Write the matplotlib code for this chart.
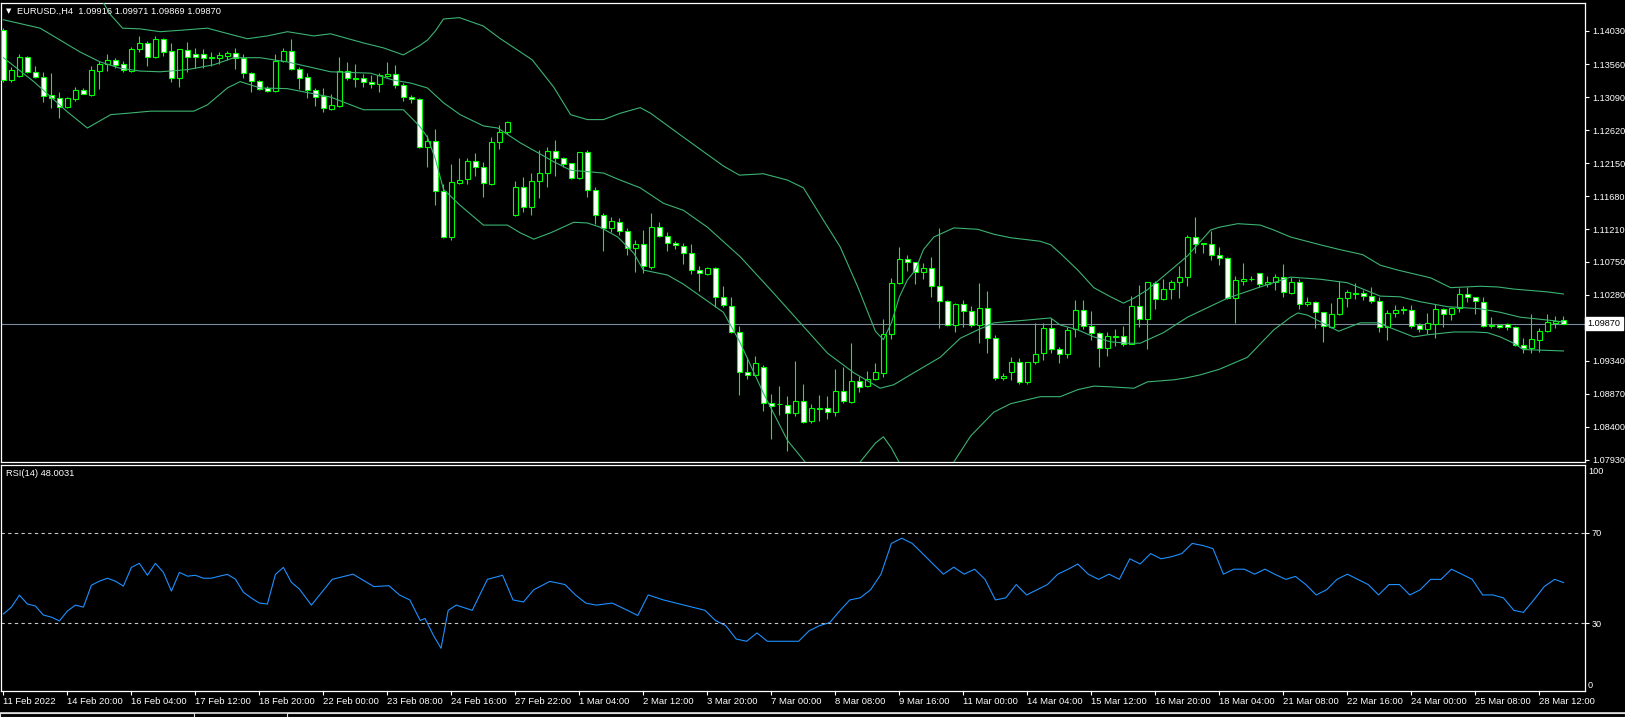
import numpy as np
import matplotlib.pyplot as plt

plt.rcParams['font.family'] = ['Liberation Sans', 'DejaVu Sans']

W, H = 1625, 717

symbol = 'EURUSD.,H4'
last_ohlc = '1.09916 1.09971 1.09869 1.09870'
rsi_title = 'RSI(14) 48.0031'
last_price = 1.09870

# H4 candles, oldest first
opens = [1.1404, 1.1333, 1.1339, 1.1366, 1.1345, 1.1338, 1.1312, 1.1308, 1.1295, 1.1306,
         1.1319, 1.1312, 1.1346, 1.1356, 1.1362, 1.1356, 1.1346, 1.1377, 1.1386, 1.1366,
         1.1392, 1.1375, 1.1336, 1.1376, 1.1370, 1.1370, 1.1365, 1.1365, 1.1367, 1.1372,
         1.1365, 1.1343, 1.1332, 1.1322, 1.1318, 1.1360, 1.1375, 1.1349, 1.1338, 1.1319,
         1.1311, 1.1292, 1.1296, 1.1346, 1.1336, 1.1336, 1.1330, 1.1328, 1.1339, 1.1342,
         1.1326, 1.1309, 1.1306, 1.1238, 1.1247, 1.1175, 1.1110, 1.1187, 1.1193, 1.1218,
         1.1210, 1.1185, 1.1245, 1.1259, 1.1141, 1.1181, 1.1153, 1.1190, 1.1201, 1.1232,
         1.1222, 1.1215, 1.1194, 1.1231, 1.1177, 1.1141, 1.1123, 1.1131, 1.1119, 1.1094,
         1.1100, 1.1067, 1.1124, 1.1111, 1.1101, 1.1097, 1.1087, 1.1063, 1.1057, 1.1066,
         1.1025, 1.1012, 1.0975, 1.0918, 1.0914, 1.0925, 1.0874, 1.0873, 1.0871, 1.0860,
         1.0877, 1.0848, 1.0865, 1.0867, 1.0861, 1.0891, 1.0875, 1.0905, 1.0898, 1.0908,
         1.0917, 1.0972, 1.1045, 1.1079, 1.1075, 1.1060, 1.1066, 1.1040, 1.1019, 1.0985,
         1.1015, 1.1005, 1.0985, 1.1009, 1.0966, 1.0910, 1.0918, 1.0932, 1.0904, 1.0932,
         1.0945, 1.0981, 1.0951, 1.0944, 1.0979, 1.1006, 1.0984, 1.0974, 1.0952, 1.0968,
         1.0969, 1.0958, 1.1012, 1.0994, 1.1045, 1.1022, 1.1036, 1.1046, 1.1053, 1.1110,
         1.1100, 1.1100, 1.1085, 1.1080, 1.1023, 1.1047, 1.1051, 1.1059, 1.1043, 1.1046,
         1.1053, 1.1030, 1.1046, 1.1015, 1.1018, 1.1003, 1.0982, 1.1001, 1.1023, 1.1029,
         1.1030, 1.1026, 1.1019, 1.0982, 1.1002, 1.1006, 1.1006, 1.0985, 1.0979, 1.0987,
         1.1008, 1.1001, 1.1009, 1.1029, 1.1025, 1.1018, 1.0984, 1.0985, 1.0986, 1.0982,
         1.0956, 1.0952, 1.0964, 1.0976, 1.0988, 1.09916]
highs = [1.1407, 1.1352, 1.1370, 1.1367, 1.1353, 1.1345, 1.1343, 1.1316, 1.1309, 1.1323,
         1.1322, 1.1353, 1.1360, 1.1370, 1.1365, 1.1360, 1.1380, 1.1396, 1.1389, 1.1396,
         1.1393, 1.1386, 1.1377, 1.1387, 1.1379, 1.1377, 1.1373, 1.1373, 1.1375, 1.1379,
         1.1370, 1.1345, 1.1333, 1.1325, 1.1370, 1.1379, 1.1392, 1.1352, 1.1343, 1.1322,
         1.1322, 1.1313, 1.1366, 1.1359, 1.1356, 1.1342, 1.1340, 1.1343, 1.1359, 1.1355,
         1.1329, 1.1312, 1.1308, 1.1255, 1.1264, 1.1185, 1.1214, 1.1222, 1.1222, 1.1230,
         1.1217, 1.1252, 1.1269, 1.1275, 1.1190, 1.1196, 1.1201, 1.1234, 1.1238, 1.1248,
         1.1224, 1.1215, 1.1231, 1.1234, 1.1181, 1.1144, 1.1139, 1.1137, 1.1123, 1.1106,
         1.1120, 1.1144, 1.1132, 1.1117, 1.1104, 1.1101, 1.1100, 1.1069, 1.1067, 1.1067,
         1.1040, 1.1025, 1.0984, 1.0939, 1.0941, 1.0928, 1.0887, 1.0898, 1.0884, 1.0934,
         1.0901, 1.0873, 1.0885, 1.0884, 1.0922, 1.0925, 1.0959, 1.0912, 1.0920, 1.0931,
         1.0993, 1.1052, 1.1096, 1.1085, 1.1075, 1.1073, 1.1082, 1.1123, 1.1020, 1.1016,
         1.1020, 1.1012, 1.1045, 1.1033, 1.0971, 1.0917, 1.0939, 1.0938, 1.0932, 1.0988,
         1.0988, 1.0995, 1.0954, 1.0982, 1.1020, 1.1020, 1.1005, 1.0975, 1.0975, 1.0979,
         1.0984, 1.1026, 1.1042, 1.1046, 1.1047, 1.1051, 1.1049, 1.1069, 1.1113, 1.1139,
         1.1101, 1.1119, 1.1096, 1.1082, 1.1055, 1.1073, 1.1055, 1.1059, 1.1055, 1.1057,
         1.1072, 1.1053, 1.1051, 1.1025, 1.1019, 1.1003, 1.1016, 1.1048, 1.1035, 1.1045,
         1.1035, 1.1039, 1.1025, 1.1006, 1.1013, 1.1012, 1.1013, 1.0988, 1.1002, 1.1015,
         1.1009, 1.1010, 1.1038, 1.1039, 1.1025, 1.1025, 1.0996, 1.0986, 1.0988, 1.0984,
         1.0966, 1.1001, 1.0981, 1.1001, 1.0998, 1.09971]
lows = [1.1330, 1.1330, 1.1338, 1.1343, 1.1336, 1.1302, 1.1293, 1.1279, 1.1293, 1.1303,
        1.1313, 1.1311, 1.1320, 1.1346, 1.1350, 1.1345, 1.1345, 1.1373, 1.1353, 1.1365,
        1.1368, 1.1330, 1.1323, 1.1345, 1.1350, 1.1350, 1.1353, 1.1356, 1.1362, 1.1349,
        1.1336, 1.1316, 1.1319, 1.1316, 1.1316, 1.1359, 1.1348, 1.1320, 1.1308, 1.1296,
        1.1288, 1.1291, 1.1295, 1.1333, 1.1323, 1.1323, 1.1322, 1.1316, 1.1338, 1.1322,
        1.1303, 1.1301, 1.1237, 1.1210, 1.1156, 1.1109, 1.1106, 1.1185, 1.1185, 1.1197,
        1.1167, 1.1184, 1.1235, 1.1257, 1.1140, 1.1146, 1.1141, 1.1166, 1.1181, 1.1197,
        1.1210, 1.1193, 1.1193, 1.1167, 1.1129, 1.1090, 1.1117, 1.1113, 1.1085, 1.1060,
        1.1059, 1.1065, 1.1110, 1.1090, 1.1093, 1.1072, 1.1057, 1.1033, 1.1056, 1.1010,
        1.1010, 1.0974, 1.0885, 1.0908, 1.0912, 1.0863, 1.0823, 1.0857, 1.0806, 1.0856,
        1.0846, 1.0846, 1.0848, 1.0851, 1.0856, 1.0874, 1.0874, 1.0890, 1.0897, 1.0907,
        1.0911, 1.0965, 1.1043, 1.1062, 1.1043, 1.1050, 1.1025, 1.0981, 1.0984, 1.0975,
        1.0982, 1.0982, 1.0959, 1.0945, 1.0907, 1.0907, 1.0907, 1.0901, 1.0901, 1.0929,
        1.0935, 1.0945, 1.0931, 1.0938, 1.0968, 1.0979, 1.0964, 1.0925, 1.0941, 1.0955,
        1.0955, 1.0958, 1.0982, 1.0951, 1.1008, 1.1020, 1.1022, 1.1023, 1.1040, 1.1087,
        1.1087, 1.1077, 1.1070, 1.1022, 1.0988, 1.1042, 1.1047, 1.1039, 1.1039, 1.1035,
        1.1025, 1.1029, 1.1008, 1.1012, 1.0981, 1.0961, 1.0981, 1.0999, 1.1010, 1.1022,
        1.1020, 1.1016, 1.0975, 1.0964, 1.0996, 1.1001, 1.0981, 1.0975, 1.0972, 1.0966,
        1.0982, 1.0992, 1.1003, 1.1018, 1.1001, 1.0982, 1.0981, 1.0981, 1.0978, 1.0955,
        1.0945, 1.0945, 1.0946, 1.0975, 1.0981, 1.09869]
closes = [1.1333, 1.1348, 1.1366, 1.1345, 1.1338, 1.1311, 1.1308, 1.1295, 1.1308, 1.1319,
          1.1313, 1.1348, 1.1356, 1.1362, 1.1355, 1.1348, 1.1377, 1.1386, 1.1366, 1.1392,
          1.1373, 1.1336, 1.1377, 1.1366, 1.1366, 1.1365, 1.1366, 1.1369, 1.1372, 1.1365,
          1.1343, 1.1332, 1.1320, 1.1318, 1.1360, 1.1375, 1.1349, 1.1336, 1.1319, 1.1309,
          1.1293, 1.1298, 1.1346, 1.1336, 1.1335, 1.1330, 1.1328, 1.1340, 1.1342, 1.1326,
          1.1309, 1.1306, 1.1238, 1.1247, 1.1175, 1.1110, 1.1188, 1.1191, 1.1218, 1.1210,
          1.1187, 1.1245, 1.1259, 1.1274, 1.1181, 1.1153, 1.1190, 1.1201, 1.1232, 1.1222,
          1.1214, 1.1194, 1.1231, 1.1177, 1.1141, 1.1123, 1.1133, 1.1119, 1.1094, 1.1100,
          1.1069, 1.1124, 1.1111, 1.1101, 1.1099, 1.1087, 1.1063, 1.1059, 1.1066, 1.1025,
          1.1013, 1.0975, 1.0918, 1.0914, 1.0931, 1.0874, 1.0870, 1.0872, 1.0860, 1.0877,
          1.0847, 1.0867, 1.0867, 1.0861, 1.0891, 1.0877, 1.0905, 1.0897, 1.0908, 1.0918,
          1.0972, 1.1045, 1.1079, 1.1075, 1.1060, 1.1066, 1.1040, 1.1019, 1.0985, 1.1015,
          1.1005, 1.0985, 1.1009, 1.0966, 1.0910, 1.0912, 1.0932, 1.0904, 1.0932, 1.0944,
          1.0981, 1.0951, 1.0944, 1.0978, 1.1006, 1.0984, 1.0974, 1.0952, 1.0969, 1.0969,
          1.0958, 1.1012, 1.0994, 1.1046, 1.1022, 1.1036, 1.1046, 1.1053, 1.1110, 1.1100,
          1.1101, 1.1085, 1.1080, 1.1023, 1.1049, 1.1051, 1.1050, 1.1043, 1.1046, 1.1053,
          1.1032, 1.1046, 1.1015, 1.1018, 1.1003, 1.0984, 1.1001, 1.1023, 1.1032, 1.1030,
          1.1026, 1.1019, 1.0982, 1.1002, 1.1006, 1.1007, 1.0984, 1.0979, 1.0988, 1.1008,
          1.1001, 1.1009, 1.1029, 1.1025, 1.1019, 1.0984, 1.0985, 1.0982, 1.0982, 1.0956,
          1.0952, 1.0965, 1.0976, 1.0989, 1.0991, 1.09870]

# Bollinger bands (20): bar position, price
bb_mid_bar = [0, 4.6, 7.1, 9.6, 12.1, 14.6, 17.1, 19.6, 23, 26.3, 28.8, 32.1, 35.5, 40.9, 45.9,
              48.8, 50.9, 53, 55, 57.1, 60, 61.8, 64.6, 66.8, 68.8, 70.9, 73, 75, 77.1, 79.6,
              82.5, 85, 88, 92.1, 96.3, 99.6, 103, 106.3, 109.6, 111.3, 113.8, 117.1, 119.6,
              121.8, 123.8, 128, 130.9, 132.1, 134.3, 136.3, 138.4, 140.5, 142.1, 145, 148,
              153, 157.1, 160.9, 164.6, 168, 172.1, 174.6, 177.1, 180.5, 184.6, 187.1, 189.6,
              193.8, 195]
bb_mid = [1.1419, 1.1407, 1.1390, 1.1373, 1.1359, 1.1350, 1.1346, 1.1345, 1.1348, 1.1355,
          1.1365, 1.1365, 1.1359, 1.1345, 1.1343, 1.1333, 1.1329, 1.1322, 1.1301, 1.1284,
          1.1268, 1.1265, 1.1244, 1.1230, 1.1217, 1.1205, 1.1203, 1.1201, 1.1191, 1.1180,
          1.1158, 1.1148, 1.1124, 1.1082, 1.1030, 1.0988, 1.0945, 1.0917, 1.0895, 1.0900,
          1.0917, 1.0939, 1.0966, 1.0978, 1.0988, 1.0992, 1.0995, 1.0985, 1.0978, 1.0968,
          1.0961, 1.0959, 1.0959, 1.0974, 1.0996, 1.1023, 1.1039, 1.1053, 1.1050, 1.1045,
          1.1026, 1.1025, 1.1018, 1.1011, 1.1008, 1.1003, 1.0996, 1.0991, 1.0989]
bb_up_bar = [0, 3.8, 8, 10.5, 12.1, 13.4, 14.9, 17.1, 19.6, 22.1, 25.5, 28.8, 30.5, 33, 35.5,
             38.8, 40.9, 45, 47.5, 50, 52, 53, 54, 55, 57, 60, 62, 66.1, 68.8, 70.9, 73, 75,
             77.1, 79.6, 80.9, 85, 90, 92, 95, 98, 100, 102.5, 104.6, 106.8, 109, 110, 111,
             112, 113, 114, 115, 116.3, 118.8, 121.8, 123.8, 125.9, 129.6, 130.9, 132.1,
             134.3, 136.3, 138.4, 140, 141.3, 143, 145.5, 148, 150.9, 152, 154.3, 157.1,
             158.8, 160.9, 164.6, 167.1, 169.9, 172.1, 174.3, 178.4, 180.9, 184.6, 186.8,
             188.8, 193, 195]
bb_up = [1.1473, 1.1490, 1.1481, 1.1473, 1.1451, 1.1426, 1.1407, 1.1406, 1.1402, 1.1404,
         1.1407, 1.1397, 1.1392, 1.1396, 1.1402, 1.1396, 1.1399, 1.1386, 1.1379, 1.1369,
         1.1382, 1.1390, 1.1403, 1.1420, 1.1422, 1.1410, 1.1393, 1.1362, 1.1323, 1.1284,
         1.1277, 1.1277, 1.1286, 1.1294, 1.1286, 1.1252, 1.1211, 1.1198, 1.1200, 1.1191,
         1.1180, 1.1134, 1.1096, 1.1039, 1.0976, 1.0964, 1.0988, 1.1025, 1.1049, 1.1063,
         1.1092, 1.1110, 1.1123, 1.1121, 1.1114, 1.1109, 1.1104, 1.1099, 1.1087, 1.1063,
         1.1038, 1.1025, 1.1016, 1.1023, 1.1035, 1.1059, 1.1083, 1.1120, 1.1124, 1.1129,
         1.1127, 1.1120, 1.1110, 1.1099, 1.1092, 1.1085, 1.1070, 1.1063, 1.1052, 1.1038,
         1.1040, 1.1039, 1.1036, 1.1032, 1.1029]
bb_low_bar = [0, 3.8, 8, 10.5, 13.4, 15.5, 18.4, 23.8, 25.5, 28, 29.6, 32.1, 35.5, 40.9, 45,
              50, 52, 53, 54, 55, 57, 60, 63, 64.6, 66.3, 68.4, 71.3, 73, 74.6, 76.8, 78.8,
              80, 83, 85, 90, 92, 95, 98, 101, 103, 104.6, 106.8, 109, 110, 111, 112, 114,
              116, 118.8, 120.9, 123.8, 125.9, 129.6, 132.1, 134.3, 136.3, 138.4, 141.3, 143,
              146.3, 148, 149.6, 152, 155.5, 158.8, 160.9, 161.8, 163, 165.9, 166.9, 169.6,
              171.8, 176.3, 178, 181.3, 183.8, 185.5, 187.1, 188.8, 190, 195]
bb_low = [1.1365, 1.1331, 1.1288, 1.1265, 1.1284, 1.1286, 1.1289, 1.1289, 1.1298, 1.1322,
          1.1331, 1.1322, 1.1321, 1.1309, 1.1291, 1.1291, 1.1268, 1.1252, 1.1221, 1.1178,
          1.1156, 1.1127, 1.1127, 1.1116, 1.1107, 1.1116, 1.1131, 1.1130, 1.1124, 1.1110,
          1.1087, 1.1063, 1.1056, 1.1043, 1.1003, 1.0962, 1.0888, 1.0821, 1.0779, 1.0756,
          1.0760, 1.0786, 1.0817, 1.0826, 1.0810, 1.0789, 1.0779, 1.0765, 1.0790, 1.0827,
          1.0861, 1.0873, 1.0883, 1.0883, 1.0893, 1.0898, 1.0897, 1.0895, 1.0904, 1.0907,
          1.0910, 1.0914, 1.0922, 1.0939, 1.0978, 1.0996, 1.1002, 1.0999, 1.0982, 1.0976,
          1.0988, 1.0988, 1.0968, 1.0971, 1.0975, 1.0975, 1.0974, 1.0968, 1.0959, 1.0950,
          1.0948]

# RSI(14)
rsi_bar = list(range(38)) + [
    38.5, 41.1, 43.7, 46.3, 48.2, 49.5, 50.8, 52.1, 52.7, 53.8, 54.7, 55.6, 56.6, 58.6, 60.5,
    62.4, 63.7, 65, 66.3, 68.3, 70.2, 71.5, 72.8, 74.1, 76.1, 78, 79.3, 80.6, 82.5, 85.1,
    87.7, 89, 90.3, 91.6, 92.9, 94.2, 95.5, 98.1, 99.4, 100.7, 102, 103.3, 104.6, 105.8,
    107.1, 108.4, 109.7, 111, 112.3, 113.6, 114.9, 116.2, 117.5, 118.8, 120.1, 121.4, 122.7,
    124, 125.3, 126.6, 127.9, 129.2, 130.5, 131.8, 133.1, 134.3, 135.6, 136.9, 138.2, 139.5,
    140.8, 142.1, 143.4, 144.7, 146, 147.3, 148.6, 149.9, 151.2, 152.5, 153.8, 155.1, 156.4,
    157.7, 158.9, 160.3, 161.5, 162.8, 164.1, 165.4, 166.7, 168, 169.3, 170.6, 171.9, 173.2,
    174.5, 175.8, 177.1, 178.4, 179.7, 181, 182.3, 183.6, 184.9, 186.2, 187.5, 188.8, 190,
    191.3, 192.6, 193.9, 195]
rsi_val = [34.1, 37.1, 42.4, 38.5, 37.6, 33.6, 32.7, 31.0, 35.4, 38.0, 37.1, 46.8, 48.6, 49.9,
           48.6, 46.4, 54.7, 56.5, 51.2, 56.5, 52.5, 44.2, 52.5, 50.8, 51.2, 49.9, 49.9, 50.8,
           51.6, 49.5, 43.7, 41.1, 38.9, 38.5, 51.6, 54.7, 48.1, 45.1,
           38.0, 49.4, 51.7, 46.2, 46.6, 42.5, 40.3, 31.2, 32.1, 24.3, 18.9, 35.7, 38.0, 35.7,
           49.4, 51.2, 40.3, 39.4, 44.8, 48.5, 47.1, 42.5, 38.9, 38.0, 38.9, 35.7, 33.4, 42.5,
           40.3, 38.0, 35.7, 31.2, 28.9, 23.0, 22.0, 25.7, 22.0, 22.0, 22.0, 26.6, 28.9, 30.3,
           35.7, 40.3, 41.2, 44.8, 51.7, 65.3, 67.6, 65.3, 60.8, 56.2, 51.7, 54.8, 51.7, 53.9,
           49.4, 40.3, 41.2, 47.1, 42.5, 44.8, 47.1, 51.7, 53.9, 56.2, 51.7, 49.4, 51.7, 49.4,
           58.5, 56.2, 60.8, 58.5, 59.4, 60.8, 65.3, 64.4, 63.0, 51.7, 53.9, 53.9, 51.7, 53.9,
           51.7, 49.4, 50.7, 47.1, 42.5, 44.8, 49.4, 51.7, 49.4, 47.1, 42.5, 47.1, 47.1, 42.5,
           44.8, 49.4, 49.4, 53.9, 51.7, 49.4, 42.5, 42.5, 41.2, 35.7, 34.8, 40.3, 46.2, 49.4,
           48.0]

price_ticks = [1.14030, 1.13560, 1.13090, 1.12620, 1.12150, 1.11680, 1.11210, 1.10750,
               1.10280, 1.09810, 1.09340, 1.08870, 1.08400, 1.07930]
time_labels = ['11 Feb 2022', '14 Feb 20:00', '16 Feb 04:00', '17 Feb 12:00', '18 Feb 20:00',
               '22 Feb 00:00', '23 Feb 08:00', '24 Feb 16:00', '27 Feb 22:00', '1 Mar 04:00',
               '2 Mar 12:00', '3 Mar 20:00', '7 Mar 00:00', '8 Mar 08:00', '9 Mar 16:00',
               '11 Mar 00:00', '14 Mar 04:00', '15 Mar 12:00', '16 Mar 20:00', '18 Mar 04:00',
               '21 Mar 08:00', '22 Mar 16:00', '24 Mar 00:00', '25 Mar 08:00', '28 Mar 12:00']

CANDLE = '#00ff00'
BAND = '#3cb371'
FG = 'white'


def px_box(x0, y0, x1, y1):
    return [x0 / W, 1 - y1 / H, (x1 - x0) / W, (y1 - y0) / H]


fig = plt.figure(figsize=(W / 100, H / 100), dpi=100, facecolor='black')
ax = fig.add_axes(px_box(1, 3, 1585, 462), facecolor='black')
rax = fig.add_axes(px_box(1, 465, 1585, 691), facecolor='black')

xlim = (-0.3, 197.7)

# --- candles
bars = np.arange(len(closes))
o = np.array(opens)
c = np.array(closes)
bull = c >= o
ax.vlines(bars, lows, highs, color=CANDLE, lw=0.8, zorder=3)
ax.bar(bars, np.maximum(np.abs(c - o), 0.00003), bottom=np.minimum(o, c), width=0.6,
       color=np.where(bull, 'black', 'white'), edgecolor=CANDLE, linewidth=0.8, zorder=4)

# --- bands and price line
ax.plot(bb_up_bar, bb_up, color=BAND, lw=0.8, zorder=5)
ax.plot(bb_mid_bar, bb_mid, color=BAND, lw=0.8, zorder=5)
ax.plot(bb_low_bar, bb_low, color=BAND, lw=0.8, zorder=5)
ax.axhline(last_price, color='#7b8a9a', lw=0.8, zorder=1)

ax.set_xlim(*xlim)
ax.set_ylim(1.07901, 1.14428)
ax.set_xticks([])
ax.yaxis.tick_right()
ax.set_yticks(price_ticks)
# the tick nearest the last price sits under the price box, so its label is left out
ax.set_yticklabels(['' if abs(p - last_price) < 0.001 else f'{p:.5f}' for p in price_ticks])
ax.tick_params(axis='y', colors=FG, length=3, width=0.8, pad=2, labelsize=6.6)
for s in ax.spines.values():
    s.set_color(FG)
    s.set_linewidth(0.9)

ax.text(1.0015, last_price, f'{last_price:.5f}', transform=ax.get_yaxis_transform(),
        ha='left', va='center', fontsize=6.6, color='black', zorder=10, clip_on=False,
        bbox=dict(boxstyle='square,pad=0.25', facecolor='white', edgecolor='white'))

fig.text(6 / W, 1 - 11 / H, '\u25bc', color=FG, fontsize=5, va='center', ha='left',
         family='DejaVu Sans')
fig.text(17 / W, 1 - 11 / H, f'{symbol}  {last_ohlc}', color=FG, fontsize=6.7,
         va='center', ha='left')

# --- RSI
rax.plot(rsi_bar, rsi_val, color='#1e90ff', lw=0.8)
for lvl in (30, 70):
    rax.axhline(lvl, color='#c8c8c8', lw=0.8, ls=(0, (3, 3)))
rax.set_xlim(*xlim)
rax.set_ylim(0, 100)
rax.yaxis.tick_right()
rax.set_yticks([30, 70])
rax.set_yticklabels(['30', '70'])
rax.tick_params(axis='y', colors=FG, length=3, width=0.8, pad=2, labelsize=6.6)
rax.set_xticks(np.arange(0, 8 * len(time_labels), 8))
rax.set_xticklabels(time_labels)
rax.tick_params(axis='x', colors=FG, length=3, width=0.8, pad=1, labelsize=6.8)
for lab in rax.get_xticklabels():
    lab.set_horizontalalignment('left')
for s in rax.spines.values():
    s.set_color(FG)
    s.set_linewidth(0.9)
fig.text(1588 / W, 1 - 472 / H, '100', color=FG, fontsize=6.6, va='center', ha='left')
fig.text(1588 / W, 1 - 686 / H, '0', color=FG, fontsize=6.6, va='center', ha='left')
fig.text(6 / W, 1 - 473 / H, rsi_title, color=FG, fontsize=6.7, va='center', ha='left')

# --- tab strip at the bottom edge
fig.add_artist(plt.Line2D([0, 1], [1 - 713 / H] * 2, color='#e0e0e0', lw=1.2))
for x0, x1 in ((0, 194), (287, 1625)):
    fig.add_artist(plt.Rectangle((x0 / W, 0), (x1 - x0) / W, 4 / H, facecolor='black',
                                 edgecolor='#e0e0e0', lw=0.8))

fig.savefig('out.png', dpi=100, facecolor='black')
